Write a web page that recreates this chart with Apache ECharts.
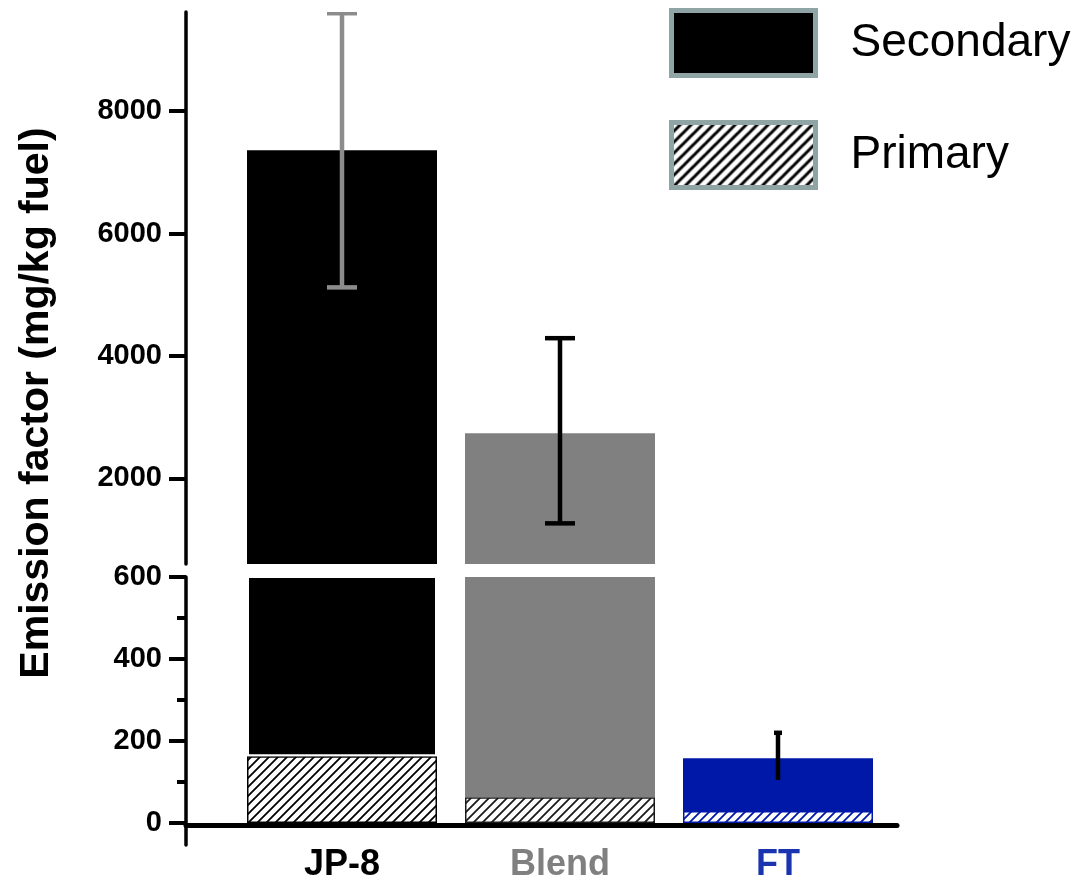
<!DOCTYPE html>
<html>
<head>
<meta charset="utf-8">
<script src="https://cdn.jsdelivr.net/npm/echarts@6/dist/echarts.min.js"></script>
<style>
  html, body { margin: 0; padding: 0; background: #ffffff; }
  #chart { width: 1086px; height: 885px; }
</style>
</head>
<body>
<div id="chart"></div>
<script>
// Emission factors (mg/kg fuel) per fuel, split into primary and secondary parts
const categories = ['JP-8', 'Blend', 'FT'];
const primaryValues = [163, 63, 29];
const secondaryValues = [7197, 2673, 129];
const errorLow = [5120, 1264, 105];
const errorHigh = [9600, 4290, 220];
const upperTickValues = [2000, 4000, 6000, 8000];

// Styling per fuel
const fuelColors = ['#000000', '#808080', '#0018a8'];
const labelColors = ['#000000', '#808080', '#1a34b0'];
const hatchLineColors = ['#000000', '#1a1a1a', '#0018a8'];
const errorColors = ['#8c8c8c', '#000000', '#000000'];
const capTopWidths = [30, 30, 8];
const capBottomWidths = [30, 30, 0];

const FONT = '"Liberation Sans", Arial, Helvetica, sans-serif';

// Diagonal hatch fill used for the primary part of each bar
function hatch(color, size, lineWidth) {
  const c = document.createElement('canvas');
  c.width = size; c.height = size;
  const g = c.getContext('2d');
  g.fillStyle = '#ffffff';
  g.fillRect(0, 0, size, size);
  g.strokeStyle = color;
  g.lineWidth = lineWidth;
  g.beginPath();
  g.moveTo(-size / 2, size / 2); g.lineTo(size / 2, -size / 2);
  g.moveTo(0, size); g.lineTo(size, 0);
  g.moveTo(size / 2, size * 1.5); g.lineTo(size * 1.5, size / 2);
  g.stroke();
  return { image: c, repeat: 'repeat' };
}

// Two stacked bar series for one panel of the broken axis (0: lower, 1: upper)
function barSeries(panel) {
  return [
    {
      name: 'Primary', type: 'bar', xAxisIndex: panel, yAxisIndex: panel,
      stack: 'fuel' + panel, barWidth: 190, clip: true,
      itemStyle: { color: hatch('#000000', 9, 1.8), borderColor: '#000000', borderWidth: 1.5 },
      data: primaryValues.map((v, i) => ({
        value: v,
        itemStyle: { color: hatch(hatchLineColors[i], 9, 1.8), borderColor: hatchLineColors[i], borderWidth: 1.5 }
      }))
    },
    {
      name: 'Secondary', type: 'bar', xAxisIndex: panel, yAxisIndex: panel,
      stack: 'fuel' + panel, barWidth: 190, clip: true,
      itemStyle: { color: '#000000' },
      data: secondaryValues.map((v, i) => ({
        value: v,
        itemStyle: {
          color: fuelColors[i],
          borderColor: '#ffffff',
          borderWidth: (panel === 0 && i === 0) ? 2 : 0
        }
      }))
    }
  ];
}

// Error bars drawn through the axes of one panel; the panel clips what lies outside it
function errorSeries(panel) {
  return {
    type: 'custom', xAxisIndex: panel, yAxisIndex: panel, clip: true, z: 5,
    data: categories.map((c, i) => [i, errorLow[i], errorHigh[i]]),
    renderItem(params, api) {
      const i = api.value(0);
      const lo = api.coord([i, api.value(1)]);
      const hi = api.coord([i, api.value(2)]);
      const wt = capTopWidths[i] / 2;
      const wb = capBottomWidths[i] / 2;
      const style = { stroke: errorColors[i], lineWidth: 4.5 };
      const children = [
        { type: 'line', shape: { x1: hi[0], y1: hi[1], x2: lo[0], y2: lo[1] }, style },
        { type: 'line', shape: { x1: hi[0] - wt, y1: hi[1], x2: hi[0] + wt, y2: hi[1] }, style }
      ];
      if (wb > 0) {
        children.push({ type: 'line', shape: { x1: lo[0] - wb, y1: lo[1], x2: lo[0] + wb, y2: lo[1] }, style });
      }
      return { type: 'group', children };
    }
  };
}

const yLabel = {
  fontSize: 29, fontWeight: 'bold', fontFamily: FONT, color: '#000000', margin: 24,
  formatter: v => String(v)
};
const yLine = { show: true, onZero: false, lineStyle: { color: '#000000', width: 3.5 } };
const yTick = { show: true, length: 17, lineStyle: { color: '#000000', width: 4 } };

const option = {
  animation: false,
  backgroundColor: '#ffffff',
  grid: [
    { left: 233, right: 199, top: 577, bottom: 62 },   // lower panel 0-600
    { left: 233, right: 199, top: 12, bottom: 321 },   // upper panel 600-9620
    { left: 186, right: 189, top: 825, bottom: 40 }    // base line and axis foot
  ],
  xAxis: [
    {
      gridIndex: 0, type: 'category', data: categories,
      axisLine: { show: false }, axisTick: { show: false },
      axisLabel: {
        fontSize: 36, fontWeight: 'bold', fontFamily: FONT, margin: 24,
        color: (v, i) => labelColors[i]
      }
    },
    { gridIndex: 1, type: 'category', data: categories, show: false },
    {
      gridIndex: 2, type: 'value', position: 'top', min: 0, max: 1,
      axisLine: { show: true, onZero: false, lineStyle: { color: '#000000', width: 5 } },
      axisTick: { show: false }, axisLabel: { show: false }, splitLine: { show: false }
    }
  ],
  yAxis: [
    {
      gridIndex: 0, type: 'value', min: 0, max: 600, interval: 200, offset: 47,
      axisLine: yLine, axisTick: yTick,
      minorTick: { show: true, splitNumber: 2, length: 9, lineStyle: { color: '#000000', width: 4 } },
      splitLine: { show: false }, minorSplitLine: { show: false },
      axisLabel: yLabel
    },
    {
      gridIndex: 1, type: 'value', min: 600, max: 9620, offset: 47,
      axisLine: yLine,
      axisTick: Object.assign({}, yTick, { customValues: upperTickValues }),
      splitLine: { show: false },
      axisLabel: Object.assign({}, yLabel, { customValues: upperTickValues })
    },
    {
      gridIndex: 2, type: 'value', min: 0, max: 1,
      axisLine: yLine, axisTick: { show: false }, axisLabel: { show: false }, splitLine: { show: false }
    }
  ],
  legend: {
    orient: 'vertical', left: 664, top: 3,
    itemWidth: 144, itemHeight: 65, itemGap: 42,
    icon: 'rect',
    itemStyle: { borderColor: '#8fa4a4', borderWidth: 5 },
    textStyle: { fontSize: 46, color: '#000000', fontFamily: FONT, padding: [0, 0, 10, 30] },
    data: [
      { name: 'Secondary', itemStyle: { color: '#000000' } },
      { name: 'Primary', itemStyle: { color: hatch('#000000', 11, 3) } }
    ]
  },
  graphic: [
    {
      type: 'text', x: 37, y: 403, rotation: Math.PI / 2,
      style: {
        text: 'Emission factor (mg/kg fuel)', fill: '#000000',
        fontSize: 41, fontWeight: 'bold', fontFamily: FONT,
        align: 'center', verticalAlign: 'middle'
      }
    }
  ],
  series: [
    ...barSeries(0),
    ...barSeries(1),
    errorSeries(0),
    errorSeries(1)
  ]
};

const chart = echarts.init(document.getElementById('chart'), null, { renderer: 'canvas' });
chart.setOption(option);
</script>
</body>
</html>
